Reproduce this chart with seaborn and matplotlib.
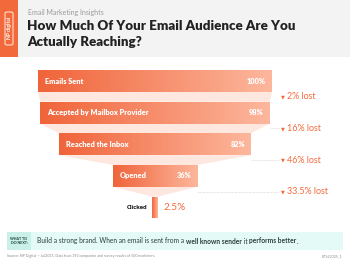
import matplotlib
matplotlib.use("Agg")
import matplotlib.pyplot as plt
import seaborn as sns
import numpy as np
from matplotlib.patches import Rectangle, FancyBboxPatch
from matplotlib.colors import LinearSegmentedColormap

# data
stages = ['Emails Sent', 'Accepted by Mailbox Provider', 'Reached the Inbox', 'Opened', 'Clicked']
pcts = [100, 98, 82, 36, 2.5]
pct_labels = ['100%', '98%', '82%', '36%', '2.5%']
losses = ['2% lost', '16% lost', '46% lost', '33.5% lost']

ORANGE = '#f26a3b'
W, H = 350, 263

sns.set_theme(style='white')
plt.rcParams['font.family'] = ['Lato', 'DejaVu Sans']

fig = plt.figure(figsize=(3.5, 2.63), dpi=100)
fig.patch.set_facecolor('white')


def fx(x):
    return x / W


def fy(y):
    return 1 - y / H


def frect(x0, y0, x1, y1, color, **kw):
    fig.patches.append(Rectangle((fx(x0), fy(y1)), (x1 - x0) / W, (y1 - y0) / H,
                                 transform=fig.transFigure, facecolor=color,
                                 edgecolor='none', **kw))


# header
frect(0, 0, 350, 57, '#f3f3f3')
frect(0, 0, 18, 57, ORANGE)
fig.patches.append(FancyBboxPatch((fx(5), fy(45)), 8 / W, 33 / H, boxstyle='round,pad=0,rounding_size=0.005',
                                  transform=fig.transFigure, facecolor='none', edgecolor='white', lw=0.6))
fig.text(fx(9.2), fy(28), 'NP digital', color='white', fontsize=3.6, fontweight='bold',
         rotation=90, ha='center', va='center')
fig.text(fx(28), fy(12), 'Email Marketing Insights', color='#9a9a9a', fontsize=5.0, va='center')
fig.text(fx(27), fy(26), 'How Much Of Your Email Audience Are You', color='#222222',
         fontsize=9.6, fontweight='heavy', va='center')
fig.text(fx(27), fy(42.5), 'Actually Reaching?', color='#222222',
         fontsize=9.6, fontweight='heavy', va='center')

# funnel axes covers the whole figure; data units are percent
ax = fig.add_axes([0, 0, 1, 1])
ax.set_facecolor('none')
sns.barplot(x=pcts, y=stages, orient='h', color=ORANGE, width=0.69, ax=ax)

px_per_unit = 2.34
x_left = -38 / px_per_unit
x_right = (W - 38) / px_per_unit
row_px = 31.6
y_top = -81 / row_px
y_bot = 4 + (H - 207.5) / row_px

cmap = LinearSegmentedColormap.from_list('bar', ['#f0643a', '#fdb79d'])
grad = np.linspace(0, 1, 256).reshape(1, -1)

bars = list(ax.patches)
for i, bar in enumerate(bars):
    w = bar.get_width()
    bar.set_x(50 - w / 2)
    y0 = bar.get_y()
    h = bar.get_height()
    bar.set_facecolor('none')
    bar.set_edgecolor('none')
    img = ax.imshow(grad, cmap=cmap, aspect='auto', extent=(50 - w / 2, 50 + w / 2, y0 + h, y0),
                    zorder=2, interpolation='bicubic')
    img.set_clip_path(bar)

# connectors between stages
for i in range(len(bars) - 1):
    a, b = bars[i], bars[i + 1]
    ya = a.get_y() + a.get_height()
    yb = b.get_y()
    wa, wb = a.get_width(), b.get_width()
    ax.fill([50 - wa / 2, 50 + wa / 2, 50 + wb / 2, 50 - wb / 2], [ya, ya, yb, yb],
            color='#fde7df', lw=0, zorder=1)
    ym = (ya + yb) / 2
    xl = 50 + wa / 2
    x_tri = (283 - 38) / px_per_unit
    if i > 0:
        ax.plot([xl, x_tri - 1.5], [ym, ym], color='#cccccc', lw=0.5, ls=(0, (1, 1)), zorder=1)
    ax.text(x_tri, ym, '▼', color=ORANGE, fontsize=3.6, ha='center', va='center',
            family=['DejaVu Sans'])
    ax.text(x_tri + 1.8, ym, losses[i], color=ORANGE, fontsize=6.4, va='center')

# labels inside bars
for i, bar in enumerate(bars[:-1]):
    w = bar.get_width()
    yc = bar.get_y() + bar.get_height() / 2
    ax.text(50 - w / 2 + 3, yc, stages[i], color='white', fontsize=5.3, fontweight='heavy', va='center')
    ax.text(50 + w / 2 - 2.5, yc, pct_labels[i], color='white', fontsize=5.3, fontweight='heavy',
            va='center', ha='right')
last = bars[-1]
yc = last.get_y() + last.get_height() / 2
ax.text(50 - last.get_width() / 2 - 2, yc, stages[-1], color='#222222', fontsize=4.4,
        fontweight='heavy', va='center', ha='right')
ax.text(50 + last.get_width() / 2 + 2.5, yc, pct_labels[-1], color=ORANGE, fontsize=7.2, va='center')

ax.set_xlim(x_left, x_right)
ax.set_ylim(y_bot, y_top)
ax.axis('off')

# bottom call-out box
frect(7, 232, 343, 250, '#e3faf6')
frect(7, 232, 31, 250, '#c9f1ea')
fig.text(fx(19), fy(241), 'WHAT TO\nDO NEXT:', color='#1f3b36', fontsize=2.6, fontweight='bold',
         ha='center', va='center', linespacing=1.1)

renderer = fig.canvas.get_renderer()
segments = [('Build a strong brand. When an email is sent from a ', 'normal'),
            ('well known sender', 'bold'), (' it ', 'normal'), ('performs better', 'bold'), ('.', 'normal')]
x = 37
for s, wgt in segments:
    t = fig.text(fx(x), fy(241), s, color='#2b3f3b', fontsize=4.8, fontweight=wgt, va='center')
    x += t.get_window_extent(renderer).width

fig.text(fx(7), fy(256.5), 'Source: NP Digital — Jul2025. Data from 193 companies and survey results of 500 marketers.',
         color='#8a8a8a', fontsize=2.6, va='center')
fig.text(fx(343), fy(256.5), '07162025_1', color='#8a8a8a', fontsize=2.6, va='center', ha='right')

fig.savefig('out.png', dpi=100)
